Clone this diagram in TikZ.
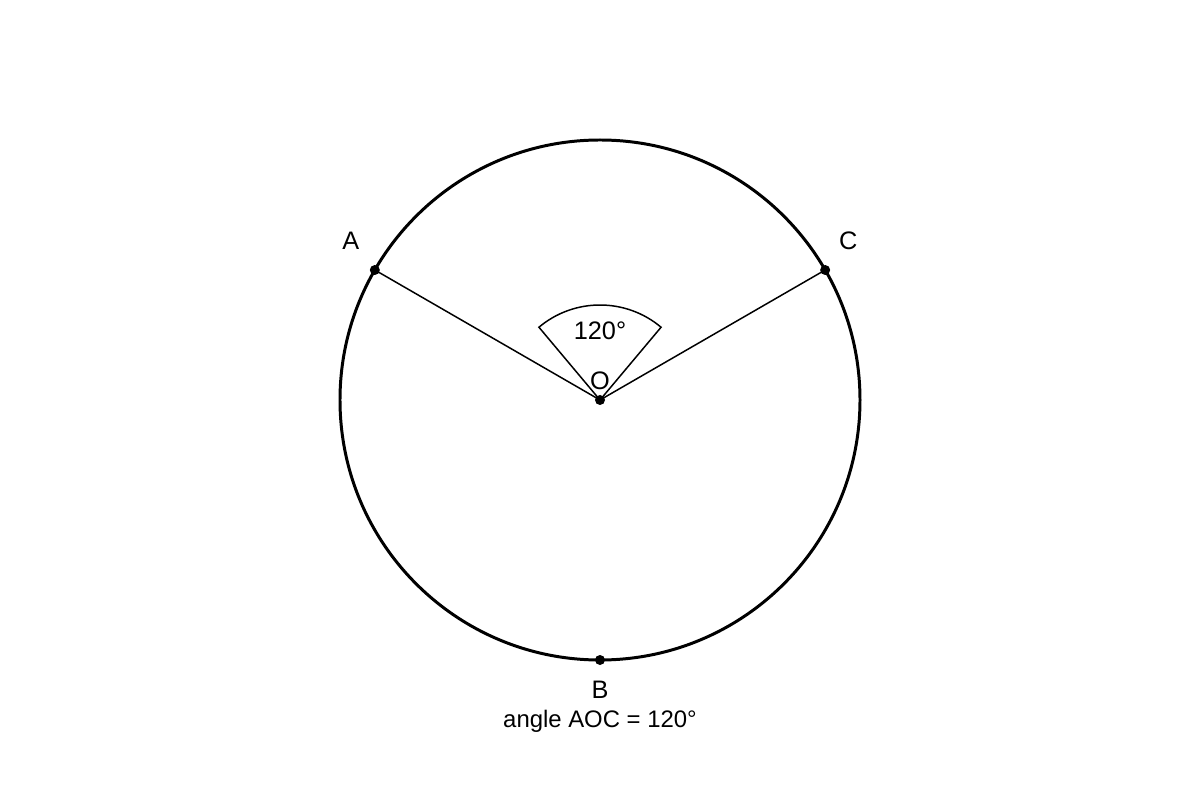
\documentclass[tikz,border=0pt]{standalone}
\usepackage{fontspec}
\setmainfont{Liberation Sans}
\usetikzlibrary{positioning}

\begin{document}
\begin{tikzpicture}[
    lbl/.style={font=\fontsize{14.4}{17}\selectfont, inner sep=0pt},
    captxt/.style={font=\fontsize{13.6}{16}\selectfont, inner sep=0pt},
    pt/.style={circle, fill=black, inner sep=0pt, minimum size=0.2cm}
]

    \useasboundingbox (-12,-8) rectangle (12,8);

    % Circle
    \draw[line width=1.7pt] (0,0) circle(5.2);

    % Points on the circle
    \node[pt] (O) at (0,0) {};
    \node[pt] (A) at (150:5.2) {};
    \node[pt] (C) at (30:5.2) {};
    \node[pt] (B) at (270:5.2) {};

    %-------------
    \draw[line width=0.85pt] (A.center) -- (O.center) -- (C.center);
    %-------------
    % Angle marker

    \draw[line width=0.85pt] (O.center) -- ++(50:1.9) arc[start angle=50,end angle=130,radius=1.9] -- cycle;

    %-------------
    % Labels

    \node[lbl, above left=0.58cm and 0.48cm of A.center, anchor=center] (lblA) {A};
    \node[lbl, above right=0.58cm and 0.46cm of C.center, anchor=center] (lblC) {C};
    \node[lbl, below=0.6cm of B.center, anchor=center] (lblB) {B};
    \node[lbl, above=0.38cm of O.center, anchor=center] (lblO) {O};
    \node[lbl, above=1.38cm of O.center, anchor=center] (lblAngle) {120°};
    \node[captxt, below=1.22cm of B.center, anchor=center] (caption) {angle AOC = 120°};

\end{tikzpicture}
\end{document}
